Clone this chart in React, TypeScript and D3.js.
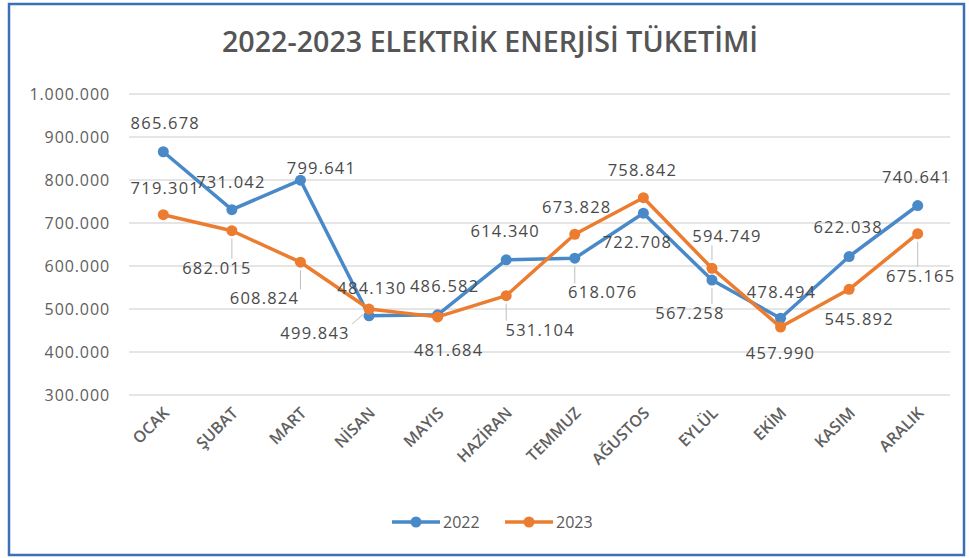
import * as d3 from 'd3'
import React from 'react'

const months = ['OCAK', 'ŞUBAT', 'MART', 'NİSAN', 'MAYIS', 'HAZİRAN', 'TEMMUZ', 'AĞUSTOS', 'EYLÜL', 'EKİM', 'KASIM', 'ARALIK']
const values2022 = [865678, 731042, 799641, 484130, 486582, 614340, 618076, 722708, 567258, 478494, 622038, 740641]
const values2023 = [719301, 682015, 608824, 499843, 481684, 531104, 673828, 758842, 594749, 457990, 545892, 675165]
const yTicks = [300000, 400000, 500000, 600000, 700000, 800000, 900000, 1000000]

// label placement (centre offset from the point) and leader flags, as Excel left them
const offsets2022: [number, number, boolean][] = [
  [2, -29, false], [-1, -28, false], [21, -12, false], [3, -28, false], [7, -29, false], [-1, -29, false],
  [28, 34, true], [-6, 29, false], [-22, 33, true], [1, -26, false], [-1, -29, false], [-1, -28, false],
]
const offsets2023: [number, number, boolean][] = [
  [2, -27, false], [-15, 37, true], [-36, 36, true], [-54, 24, true], [11, 33, false], [34, 34, true],
  [2, -27, false], [-1, -28, false], [15, -32, true], [0, 26, false], [10, 30, false], [3, 42, true],
]

const W = 969
const H = 558
const fmt = (v: number) => d3.format(',')(v).replace(/,/g, '.')
const labelFont = '"Open Sans", sans-serif'

const App = () => {
  const x = d3.scaleBand<string>().domain(months).range([129, 952])
  const y = d3.scaleLinear().domain([300000, 1000000]).range([395, 94])
  const cx = (m: string) => (x(m) ?? 0) + x.bandwidth() / 2

  const series = [
    { name: '2022', values: values2022, color: '#4a89c8', offsets: offsets2022 },
    { name: '2023', values: values2023, color: '#ec7c30', offsets: offsets2023 },
  ]

  const line = d3.line<number>()
    .x((d, i) => cx(months[i]))
    .y(d => y(d))

  const leader = (px: number, py: number, lx: number, ly: number) => {
    const hw = 37, hh = 9
    const ex = Math.max(lx - hw, Math.min(px, lx + hw))
    const ey = Math.max(ly - hh, Math.min(py, ly + hh))
    const dx = ex - px, dy = ey - py
    const len = Math.hypot(dx, dy) || 1
    return { x1: px + dx / len * 8, y1: py + dy / len * 8, x2: ex, y2: ey }
  }

  return (
    <div style={{ position: 'absolute', left: 0, top: 0 }}>
      <svg width={W} height={H} style={{ display: 'block', background: '#fff' }}>
        <rect x={9} y={4} width={955} height={551} fill='#fff' stroke='#3d6fb6' strokeWidth={2.5} />
        <text x={490} y={52} textAnchor='middle' fontFamily={labelFont} fontSize={28} fontWeight={600} fill='#555'
          textLength={536} lengthAdjust='spacingAndGlyphs'>2022-2023 ELEKTRİK ENERJİSİ TÜKETİMİ</text>

        {yTicks.map(t => (
          <g key={t}>
            <line x1={129} x2={950} y1={y(t)} y2={y(t)} stroke='#dcdcdc' strokeWidth={1.5} />
            <text x={110} y={y(t)} dy='0.35em' textAnchor='end' fontFamily={labelFont} fontSize={16}
              fill='#606060' letterSpacing={0.9}>{fmt(t)}</text>
          </g>
        ))}

        {months.map(m => (
          <text key={m} transform={`translate(${cx(m) + 7},${414}) rotate(-45)`} textAnchor='end'
            fontFamily={labelFont} fontSize={16} fontWeight={600} fill='#606060'>{m}</text>
        ))}

        {series.map(s => (
          <g key={s.name}>
            <path d={line(s.values) ?? ''} fill='none' stroke={s.color} strokeWidth={3.5} strokeLinejoin='round' />
            {s.values.map((v, i) => (
              <circle key={i} cx={cx(months[i])} cy={y(v)} r={5.5} fill={s.color} />
            ))}
          </g>
        ))}

        {series.map(s => s.values.map((v, i) => {
          const [dx, dy, hasLeader] = s.offsets[i]
          const px = cx(months[i]), py = y(v)
          const lx = px + dx, ly = py + dy
          const l = leader(px, py, lx, ly)
          return (
            <g key={s.name + i}>
              {hasLeader && <line {...l} stroke='#bfbfbf' strokeWidth={1} />}
              <text x={lx} y={ly} dy='0.36em' textAnchor='middle' fontFamily={labelFont} fontSize={16.5}
                fill='#4a4a4a' letterSpacing={1.2}>{fmt(v)}</text>
            </g>
          )
        }))}

        {series.map((s, i) => {
          const x0 = 392 + i * 113
          return (
            <g key={s.name}>
              <line x1={x0} x2={x0 + 48} y1={522} y2={522} stroke={s.color} strokeWidth={3.5} />
              <circle cx={x0 + 24} cy={522} r={5.5} fill={s.color} />
              <text x={x0 + 51} y={522} dy='0.36em' fontFamily={labelFont} fontSize={16} fill='#595959'>{s.name}</text>
            </g>
          )
        })}
      </svg>
    </div>
  )
}

export default App
